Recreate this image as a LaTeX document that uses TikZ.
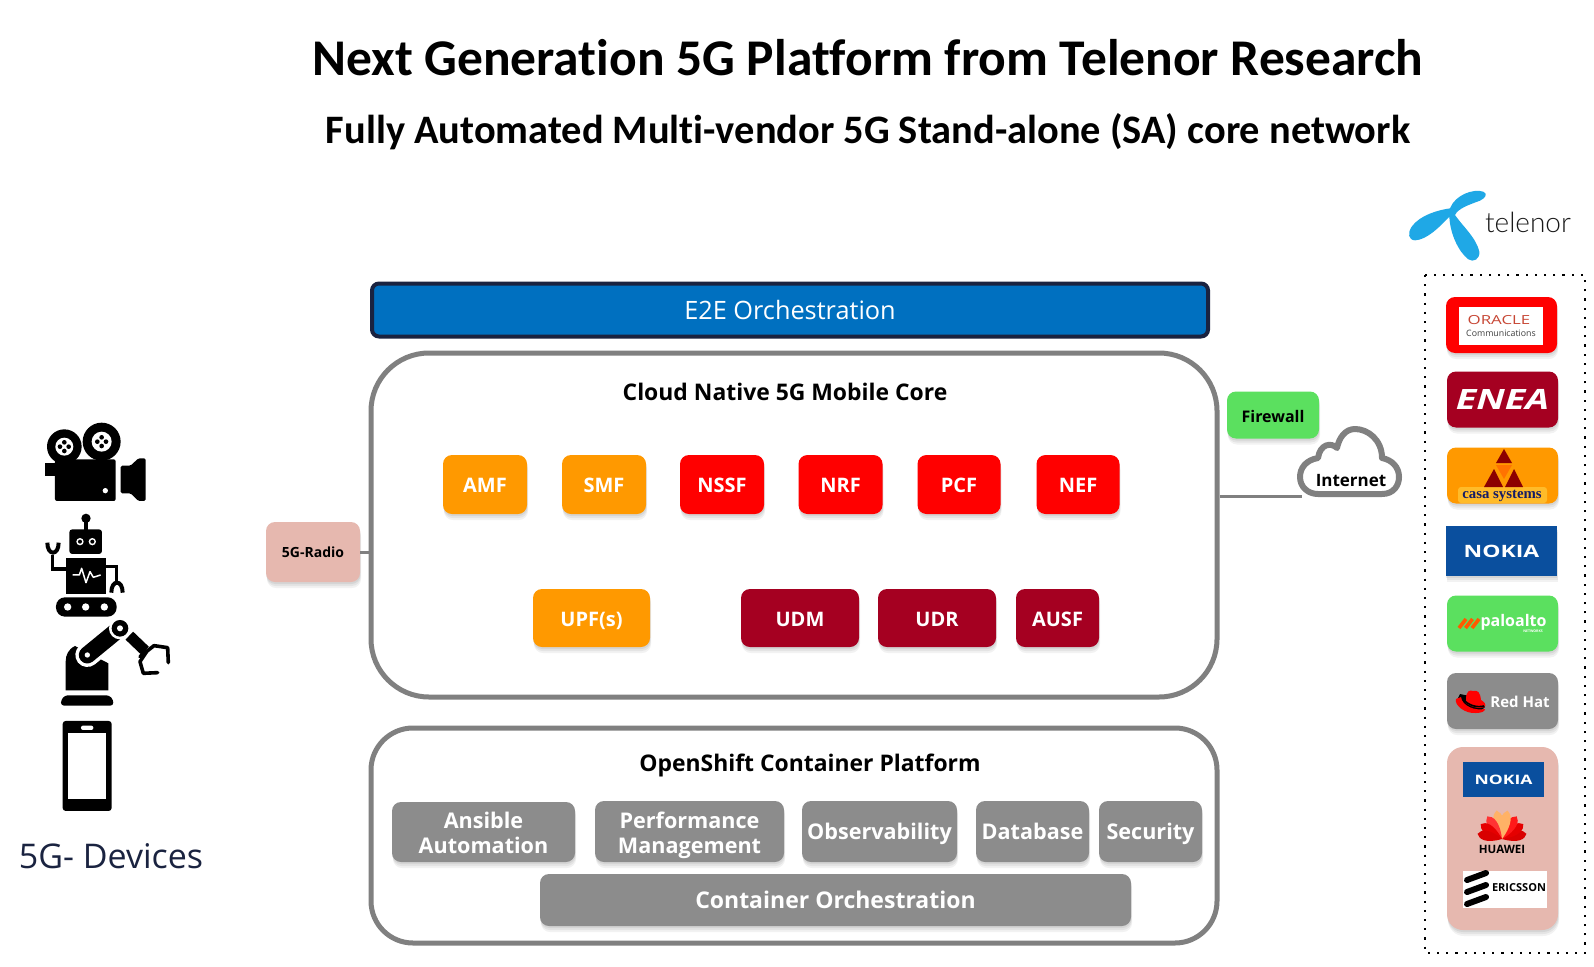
\documentclass[tikz,border=0pt]{standalone}
\usepackage{fontspec}
\usetikzlibrary{shadows}
\setmainfont{Open Sans}
\newfontfamily\calfam[Ligatures=CommonOff]{Carlito}
\newfontfamily\widefam[FakeStretch=1.35]{Open Sans}
\newfontfamily\latofam{Lato Light}
\newfontfamily\serfam{Liberation Serif}
\newcommand{\fsz}[1]{\fontsize{#1}{\dimexpr #1pt*12/10\relax}\selectfont}
\definecolor{orangeb}{HTML}{FF9900}
\definecolor{redb}{HTML}{FF0000}
\definecolor{darkredb}{HTML}{A50021}
\definecolor{grayb}{HTML}{8C8C8C}
\definecolor{pinkb}{HTML}{E6B8AF}
\definecolor{greenb}{HTML}{5BE05F}
\definecolor{blueb}{HTML}{0070C0}
\definecolor{nokiab}{HTML}{0A4F9E}
\definecolor{frameg}{HTML}{808080}
\definecolor{navyt}{HTML}{1A2340}
\definecolor{telblue}{HTML}{1FA8E6}
\definecolor{oracler}{HTML}{C74634}
\tikzset{
  softshadow/.style={
    drop shadow={opacity=.10,shadow xshift=1pt,shadow yshift=-6pt},
    drop shadow={opacity=.12,shadow xshift=.7pt,shadow yshift=-4pt},
    drop shadow={opacity=.15,shadow xshift=.4pt,shadow yshift=-2pt}},
  oneline/.style={text height=16pt,text depth=0pt},
  vbox/.style={rectangle,rounded corners=9pt,inner sep=0pt,align=center,softshadow,font=\bfseries\fsz{20},text=white},
  cbox/.style={vbox,oneline},
  logobox/.style={rectangle,rounded corners=9pt,inner sep=0pt,align=center,softshadow,minimum width=111pt,minimum height=56pt},
  platbox/.style={vbox,fill=grayb,font=\bfseries\fsz{21.6},align=center},
  platone/.style={platbox,oneline},
  frame/.style={rectangle,draw=frameg,line width=5pt,fill=white,inner sep=0pt},
  heading/.style={font=\bfseries\fsz{22.9},text=black,inner sep=0pt,oneline},
  conn/.style={draw=frameg,line width=3pt},
  lbl/.style={inner sep=0pt,align=center}
}
\begin{document}
\begin{tikzpicture}[x=1pt,y=-1pt]
\fill[white] (0,0) rectangle (1594,966);
\useasboundingbox (0,0) rectangle (1594,966);

% titles
\node[lbl,font=\calfam\bfseries\fsz{51.5}] (title) at (868,58) {Next Generation 5G Platform from Telenor Research};
\node[lbl,font=\calfam\bfseries\fsz{40.4}] (subtitle) at (868,132) {Fully Automated Multi-vendor 5G Stand-alone (SA) core network};

% E2E
\node[rectangle,rounded corners=7pt,draw=navyt,line width=4pt,fill=blueb,text=white,minimum width=836pt,minimum height=53pt,inner sep=0pt,font=\fsz{25.3}] (e2e) at (790,310) {E2E Orchestration};

% frames
\node[frame,rounded corners=58pt,minimum width=846pt,minimum height=344pt] (core) at (794,525) {};
\node[frame,rounded corners=42pt,minimum width=846pt,minimum height=215pt] (plat) at (794,835.5) {};
\node[heading] (coretitle) at (785,392) {Cloud Native 5G Mobile Core};
\node[heading] (plattitle) at (810,763) {OpenShift Container Platform};

% core functions
\node[cbox,fill=orangeb,minimum width=84pt,minimum height=59pt] (amf) at (485,484.5) {AMF};
\node[cbox,fill=orangeb,minimum width=84pt,minimum height=59pt] (smf) at (604,484.5) {SMF};
\node[cbox,fill=redb,minimum width=84pt,minimum height=59pt] (nssf) at (722,484.5) {NSSF};
\node[cbox,fill=redb,minimum width=84pt,minimum height=59pt] (nrf) at (840.5,484.5) {NRF};
\node[cbox,fill=redb,minimum width=83pt,minimum height=59pt] (pcf) at (959,484.5) {PCF};
\node[cbox,fill=redb,minimum width=83pt,minimum height=59pt] (nef) at (1078,484.5) {NEF};
\node[cbox,fill=orangeb,minimum width=117pt,minimum height=58pt] (upf) at (591.5,618) {UPF(s)};
\node[cbox,fill=darkredb,minimum width=118pt,minimum height=58pt] (udm) at (800,618) {UDM};
\node[cbox,fill=darkredb,minimum width=118pt,minimum height=58pt] (udr) at (937,618) {UDR};
\node[cbox,fill=darkredb,minimum width=83pt,minimum height=58pt] (ausf) at (1057.5,618) {AUSF};

% platform
\node[platbox,minimum width=183pt,minimum height=60pt] (ansible) at (483.5,832) {\rule{0pt}{24pt}Ansible\\[-1pt]Automation\vphantom{g}};
\node[platbox,minimum width=189pt,minimum height=61pt] (perf) at (689.5,831.5) {\rule{0pt}{24pt}Performance\\[-1pt]Management};
\node[platone,minimum width=155pt,minimum height=61pt] (obs) at (879.5,831.5) {Observability};
\node[platone,minimum width=113pt,minimum height=61pt] (db) at (1032.5,831.5) {Database};
\node[platone,minimum width=103pt,minimum height=61pt] (sec) at (1150.5,831.5) {Security};
\node[platone,font=\bfseries\fsz{23},minimum width=591pt,minimum height=52pt] (orch) at (835.5,900) {Container Orchestration};

% radio, firewall
\node[vbox,text height=14pt,text depth=4pt,fill=pinkb,text=black,font=\bfseries\fsz{14},minimum width=94pt,minimum height=60pt] (radio) at (313,552) {5G-Radio};
\node[vbox,text height=15pt,text depth=0pt,fill=greenb,text=black,font=\bfseries\fsz{16},minimum width=92pt,minimum height=47pt] (fw) at (1273,415) {Firewall};
\draw[conn] (radio.east) -- (radio.east -| core.west);

% cloud
\draw[draw=frameg,line width=6pt,fill=white,line join=round] (1318,494) -- (1382,494)
  .. controls (1394,494) and (1399,485) .. (1399,477)
  .. controls (1399,467) and (1392,460) .. (1382,458)
  .. controls (1382,440) and (1368,429) .. (1355,429)
  .. controls (1345,429) and (1339,438) .. (1337,448)
  .. controls (1331,442) and (1320,444) .. (1318,458)
  .. controls (1306,460) and (1300,468) .. (1300,477)
  .. controls (1300,487) and (1308,494) .. (1318,494) -- cycle;
\node[lbl,font=\bfseries\fsz{17},text=black] (internet) at (1351,481) {Internet};
\coordinate (netend) at (1302,496.5);
\draw[conn] (netend -| core.east) -- (netend);

% Telenor logo
\begin{scope}[shift={(1390,170)},x=.3333pt,y=-.3333pt]
\fill[telblue] (180,115) .. controls (195,75) and (250,55) .. (280,65)
  .. controls (295,72) and (285,85) .. (270,92)
  .. controls (235,105) and (205,115) .. (195,135)
  .. controls (215,165) and (260,205) .. (268,245)
  .. controls (270,268) and (250,278) .. (235,268)
  .. controls (205,245) and (180,190) .. (178,140)
  .. controls (150,170) and (110,210) .. (75,211)
  .. controls (55,210) and (52,190) .. (65,170)
  .. controls (90,135) and (145,120) .. (180,115) -- cycle;
\end{scope}
\node[lbl,font=\latofam\fsz{28},text=black!90] (telenor) at (1528,222) {telenor};

% vendor column
\draw[black,line width=2.2pt,dash pattern=on 2.2pt off 7pt] (1425,275) rectangle (1585,953);

\node[logobox,fill=redb] (oraclebox) at (1501.5,325) {};
\fill[white] (1459,307) rectangle (1543,345);
\node[lbl,font=\widefam\fsz{12.5},text=oracler] (oracle) at (1499,320) {ORACLE};
\node[lbl,font=\fsz{8.8},text=black!75] (oraclecomm) at (1501,333) {Communications};

\node[logobox,fill=darkredb,text=white,font=\widefam\bfseries\itshape\fsz{28}] (enea) at (1502.5,399.5) {ENEA};

\node[logobox,fill=orangeb] (casabox) at (1502.5,475.5) {};
\fill[orange!45!yellow!70!white,opacity=.55,rounded corners=3pt] (1458,487) rectangle (1547,503);
\fill[red!55!black] (1504,449) -- (1512,463) -- (1496,463) -- cycle;
\fill[orange!90!red] (1496,465) -- (1512,465) -- (1504,479) -- cycle;
\fill[red!55!black] (1494,469) -- (1503,487) -- (1484,487) -- cycle;
\fill[red!55!black] (1514,469) -- (1523,487) -- (1505,487) -- cycle;
\node[lbl,font=\serfam\bfseries\fsz{14.8},text=navyt!80!blue] (casa) at (1502,496) {casa systems};

\node[rectangle,inner sep=0pt,fill=nokiab,minimum width=111pt,minimum height=50pt,text=white,font=\widefam\bfseries\fsz{17},softshadow] (nokia) at (1501.5,551) {NOKIA};

\node[logobox,fill=greenb] (palobox) at (1502.5,623.5) {};
\foreach \dx in {0,6.5,13}{
  \draw[orange!70!red,line width=3.6pt] (1459+\dx,628) -- (1466+\dx,619);
}
\node[lbl,font=\bfseries\fsz{16},text=white] (palo) at (1513.5,622) {paloalto};
\node[lbl,font=\bfseries\fsz{3.5},text=white] (palonet) at (1533,631) {NETWORKS};

\node[logobox,fill=grayb] (rhbox) at (1502.5,701) {};
\fill[black] (1457,700) .. controls (1460,711) and (1478,716) .. (1485,707) .. controls (1484,702) and (1478,700) .. (1474,697) -- (1460,694) -- cycle;
\fill[redb] (1466,700) .. controls (1466,690) and (1470,690) .. (1473,691) .. controls (1478,690) and (1480,692) .. (1481,700) .. controls (1488,704) and (1486,708) .. (1480,708) .. controls (1472,708) and (1462,702) .. (1466,700) -- cycle;
\fill[redb] (1456,699) .. controls (1454,705) and (1465,714) .. (1476,713) .. controls (1482,713) and (1485,711) .. (1485,709) .. controls (1475,711) and (1462,706) .. (1461,697) -- cycle;
\draw[black,line width=1.6pt] (1463,699) .. controls (1468,705) and (1476,708) .. (1484,706);
\node[lbl,font=\bfseries\fsz{15},text=white] (redhat) at (1520,702) {Red Hat};

\node[rectangle,rounded corners=16pt,inner sep=0pt,fill=pinkb,minimum width=111pt,minimum height=183pt,softshadow] (pink) at (1502.5,838.5) {};
\node[rectangle,inner sep=0pt,fill=nokiab,minimum width=81pt,minimum height=35pt,text=white,font=\widefam\bfseries\fsz{13}] (nokia2) at (1503.5,779.5) {NOKIA};
\foreach \a/\l/\c in {-78/25/red!85!black,-55/26/red!90!black,-33/27/red!90!white,-11/29/orange!60!white,11/29/orange!60!white,33/27/red!80!white,55/26/red!90!black,78/25/red!85!black}{
  \fill[\c,rotate around={\a:(1502,839)}] (1502,839) .. controls (1494,839-.6*\l) and (1497,839-.9*\l) .. (1502,839-\l) .. controls (1507,839-.9*\l) and (1510,839-.6*\l) .. (1502,839) -- cycle;
}
\node[lbl,font=\bfseries\fsz{11.5},text=black] (huawei) at (1502,849) {HUAWEI};
\fill[white] (1463,871) rectangle (1547,908);
\foreach \yy in {876,888,900}{
  \draw[black,line width=6pt,line cap=round] (1467,\yy+4) -- (1486,\yy-3);
}
\node[lbl,font=\bfseries\fsz{11},text=black] (ericsson) at (1519,888) {ERICSSON};

% camera
\begin{scope}[shift={(0,400)},x=.3333pt,y=-.3333pt]
\fill[black] (193,140) circle (52);
\fill[black] (305,125) circle (57);
\fill[black,rounded corners=2pt] (165,178) rectangle (347,303);
\fill[black] (135,190) rectangle (170,228);
\fill[black,rounded corners=1.5pt] (362,197) -- (392,197) -- (415,175) -- (437,175) -- (437,303) -- (415,303) -- (392,280) -- (362,280) -- cycle;
\fill[white] (193,140) circle (27);
\fill[white] (305,125) circle (30);
\foreach \cx/\cy in {193/140,305/125}{
  \foreach \ox/\oy in {-13/0,13/0,0/-13,0/13}{\fill[black] (\cx+\ox,\cy+\oy) circle (7);}
}
\fill[white] (316,272) circle (8);
% robot
\fill[black] (258,355) circle (14);
\fill[black] (253,355) rectangle (263,392);
\fill[black,rounded corners=3pt] (208,388) rectangle (306,462);
\foreach \ex in {240,277}{\fill[white] (\ex,425) circle (11);\fill[black] (\ex,425) circle (6);}
\fill[black] (197,475) rectangle (318,582);
\draw[white,line width=1.5pt,line join=round] (218,525) -- (238,525) -- (245,505) -- (258,548) -- (270,515) -- (280,532) -- (302,525);
\draw[black,line width=3.6pt] (197,507) -- (157,507) -- (157,465);
\draw[black,line width=3.6pt] (318,500) -- (350,500) -- (350,548);
\draw[black,line width=4pt] (142,428) .. controls (142,468) and (176,468) .. (176,428);
\draw[black,line width=4pt] (334,578) .. controls (334,538) and (368,538) .. (368,578);
\fill[black,rounded corners=9pt] (168,592) rectangle (350,650);
\foreach \tx in {203,257,313}{\fill[white] (\tx,621) circle (11);}
% arm
\fill[black,rounded corners=3pt] (183,917) -- (183,900) -- (195,886) -- (328,886) -- (340,900) -- (340,917) -- cycle;
\fill[black] (197,871) -- (197,785) .. controls (197,765) and (205,748) .. (225,738) -- (325,790) -- (325,871) -- cycle;
\draw[white,line width=24pt,line cap=round] (262,765) -- (345,697);
\draw[black,line width=17pt,line cap=round] (262,765) -- (345,697);
\fill[white] (262,765) circle (8);
\fill[white] (360,685) circle (33);
\fill[black] (360,685) circle (25);
\fill[white] (360,685) circle (9);
\draw[black,line width=11pt] (388,707) -- (435,752);
\draw[black,line width=3.6pt,line join=round,line cap=round] (420,770) -- (462,737) -- (503,743) -- (505,788);
\draw[black,line width=3.6pt,line join=round,line cap=round] (440,755) -- (420,785) -- (430,820) -- (473,818);
% phone
\fill[black,rounded corners=3pt] (188,963) rectangle (335,1233);
\fill[white] (205,1000) rectangle (317,1197);
\fill[white,rounded corners=2pt] (243,977) rectangle (280,990);
\end{scope}
\node[lbl,font=\fsz{34},text=navyt,anchor=base] (devices) at (111,868) {5G- Devices};
\end{tikzpicture}
\end{document}
